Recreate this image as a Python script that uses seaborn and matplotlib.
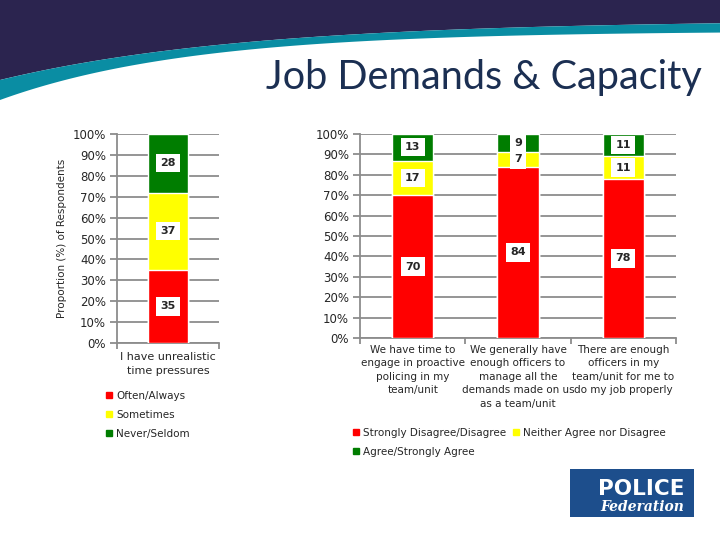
import numpy as np
import pandas as pd
import matplotlib
matplotlib.use("Agg")
import matplotlib.pyplot as plt
import seaborn as sns
from matplotlib.patches import Polygon, Rectangle
from matplotlib.lines import Line2D

# ---------------- data ----------------
left_categories = ["I have unrealistic\ntime pressures"]
left_levels = ["Often/Always", "Sometimes", "Never/Seldom"]
left_values = {"Often/Always": [35], "Sometimes": [37], "Never/Seldom": [28]}

right_categories = ["We have time to\nengage in proactive\npolicing in my\nteam/unit",
                    "We generally have\nenough officers to\nmanage all the\ndemands made on us\nas a team/unit",
                    "There are enough\nofficers in my\nteam/unit for me to\ndo my job properly"]
right_levels = ["Strongly Disagree/Disagree", "Neither Agree nor Disagree", "Agree/Strongly Agree"]
right_values = {"Strongly Disagree/Disagree": [70, 84, 78],
                "Neither Agree nor Disagree": [17, 7, 11],
                "Agree/Strongly Agree": [13, 9, 11]}

yticks = [0, 10, 20, 30, 40, 50, 60, 70, 80, 90, 100]
title = "Job Demands & Capacity"
ylabel = "Proportion (%) of Respondents"

colors = ["#FF0000", "#FFFF00", "#007D00"]

sns.set_style("white")
plt.rcParams["font.family"] = ["DejaVu Sans"]

W, H = 720, 540
fig = plt.figure(figsize=(7.2, 5.4), dpi=100)


def px(x0, y0, w, h):
    return [x0 / W, 1 - (y0 + h) / H, w / W, h / H]


# ---------------- background / header ----------------
bg = fig.add_axes([0, 0, 1, 1], zorder=0)
bg.set_xlim(0, W)
bg.set_ylim(H, 0)
bg.axis("off")

xs = np.linspace(0, W, 200)
navy_y = 20 + 60 * np.exp(-xs / 248)
teal_y = 31 + 69 * np.exp(-xs / 190)
navy_edge = np.column_stack([xs, navy_y])
teal_edge = np.column_stack([xs, teal_y])
bg.add_patch(Polygon(np.vstack([[[0, 0]], navy_edge, [[W, 0]]]),
                     closed=True, color="#2B244F", lw=0))
bg.add_patch(Polygon(np.vstack([navy_edge, teal_edge[::-1]]),
                     closed=True, color="#0A8DA3", lw=0))
bg.text(702, 89, title, ha="right", va="baseline", fontsize=28.5,
        color="#1B2F52", family="Lato")

# logo
bg.add_patch(Rectangle((570, 469), 124, 48, color="#1D4E8C", lw=0))
bg.text(641, 489, "POLICE", ha="center", va="center", fontsize=15.5,
        fontweight="bold", color="white", family="DejaVu Sans")
bg.text(642, 507, "Federation", ha="center", va="center", fontsize=10,
        fontweight="bold", style="italic", color="white", family="DejaVu Serif")


def stacked(ax, cats, levels, values, xfs, xls, xoff):
    rows = []
    for lv in levels:
        for c, v in zip(cats, values[lv]):
            rows.append({"cat": c, "level": lv, "val": v})
    df = pd.DataFrame(rows)
    df["cum"] = df.groupby("cat")["val"].cumsum()
    df["cat"] = pd.Categorical(df["cat"], cats)
    # draw from top layer down so lower layers overlay
    for lv, col in reversed(list(zip(levels, colors))):
        sub = df[df["level"] == lv]
        sns.barplot(data=sub, x="cat", y="cum", color=col, width=0.39,
                    saturation=1, ax=ax, zorder=3, order=cats, errorbar=None)
    for _, r in df.iterrows():
        xi = cats.index(r["cat"])
        ax.text(xi, r["cum"] - r["val"] / 2, f"{r['val']}", ha="center",
                va="center", fontsize=8, fontweight="bold", zorder=5,
                bbox=dict(boxstyle="square,pad=0.38", fc="white", ec="none"))
    ax.set_ylim(0, 100)
    ax.set_xlim(-0.5, len(cats) - 0.5)
    ax.set_yticks(yticks)
    ax.set_yticklabels([f"{t}%" for t in yticks], fontsize=8.5)
    ax.yaxis.grid(True, color="#8C8C8C", lw=1.3, zorder=0)
    ax.set_axisbelow(True)
    for s in ["top", "right"]:
        ax.spines[s].set_visible(False)
    for s in ["left", "bottom"]:
        ax.spines[s].set_color("#8C8C8C")
        ax.spines[s].set_linewidth(1.3)
    ax.tick_params(axis="y", left=True, length=5, color="#8C8C8C", width=1.3, pad=3)
    # category-boundary ticks
    ax.set_xticks(np.arange(-0.5, len(cats), 1.0))
    ax.set_xticklabels([""] * (len(cats) + 1))
    ax.tick_params(axis="x", bottom=True, length=4, color="#8C8C8C", width=1.3)
    ax.set_xlabel("")
    ax.set_ylabel("")
    for i, c in enumerate(cats):
        ax.text(i, xoff, c, ha="center", va="top", fontsize=xfs,
                linespacing=xls)
    return df


axL = fig.add_axes(px(117, 134, 102, 209), zorder=2)
stacked(axL, left_categories, left_levels, left_values, 8, 1.4, -4.5)
axL.set_ylabel(ylabel, fontsize=7.5, labelpad=4)

axR = fig.add_axes(px(360, 134, 316, 204), zorder=2)
stacked(axR, right_categories, right_levels, right_values, 7.5, 1.42, -3.5)

# legends
hL = [Line2D([], [], marker="s", ls="", color=c, markersize=5) for c in colors]
fig.legend(hL, left_levels, loc="upper left", bbox_to_anchor=(106 / W, 1 - 391 / H),
           frameon=False, fontsize=7.5, handlelength=0.6, handletextpad=0.4,
           labelspacing=0.85, borderaxespad=0, borderpad=0)

order = [0, 2, 1]
fig.legend([hL[i] for i in order], [right_levels[i] for i in order], ncol=2,
           loc="upper left", bbox_to_anchor=(353 / W, 1 - 428 / H),
           frameon=False, fontsize=7.5, handlelength=0.6, handletextpad=0.4,
           labelspacing=0.85, columnspacing=0.6, borderaxespad=0, borderpad=0)

fig.savefig("out.png", dpi=100)
